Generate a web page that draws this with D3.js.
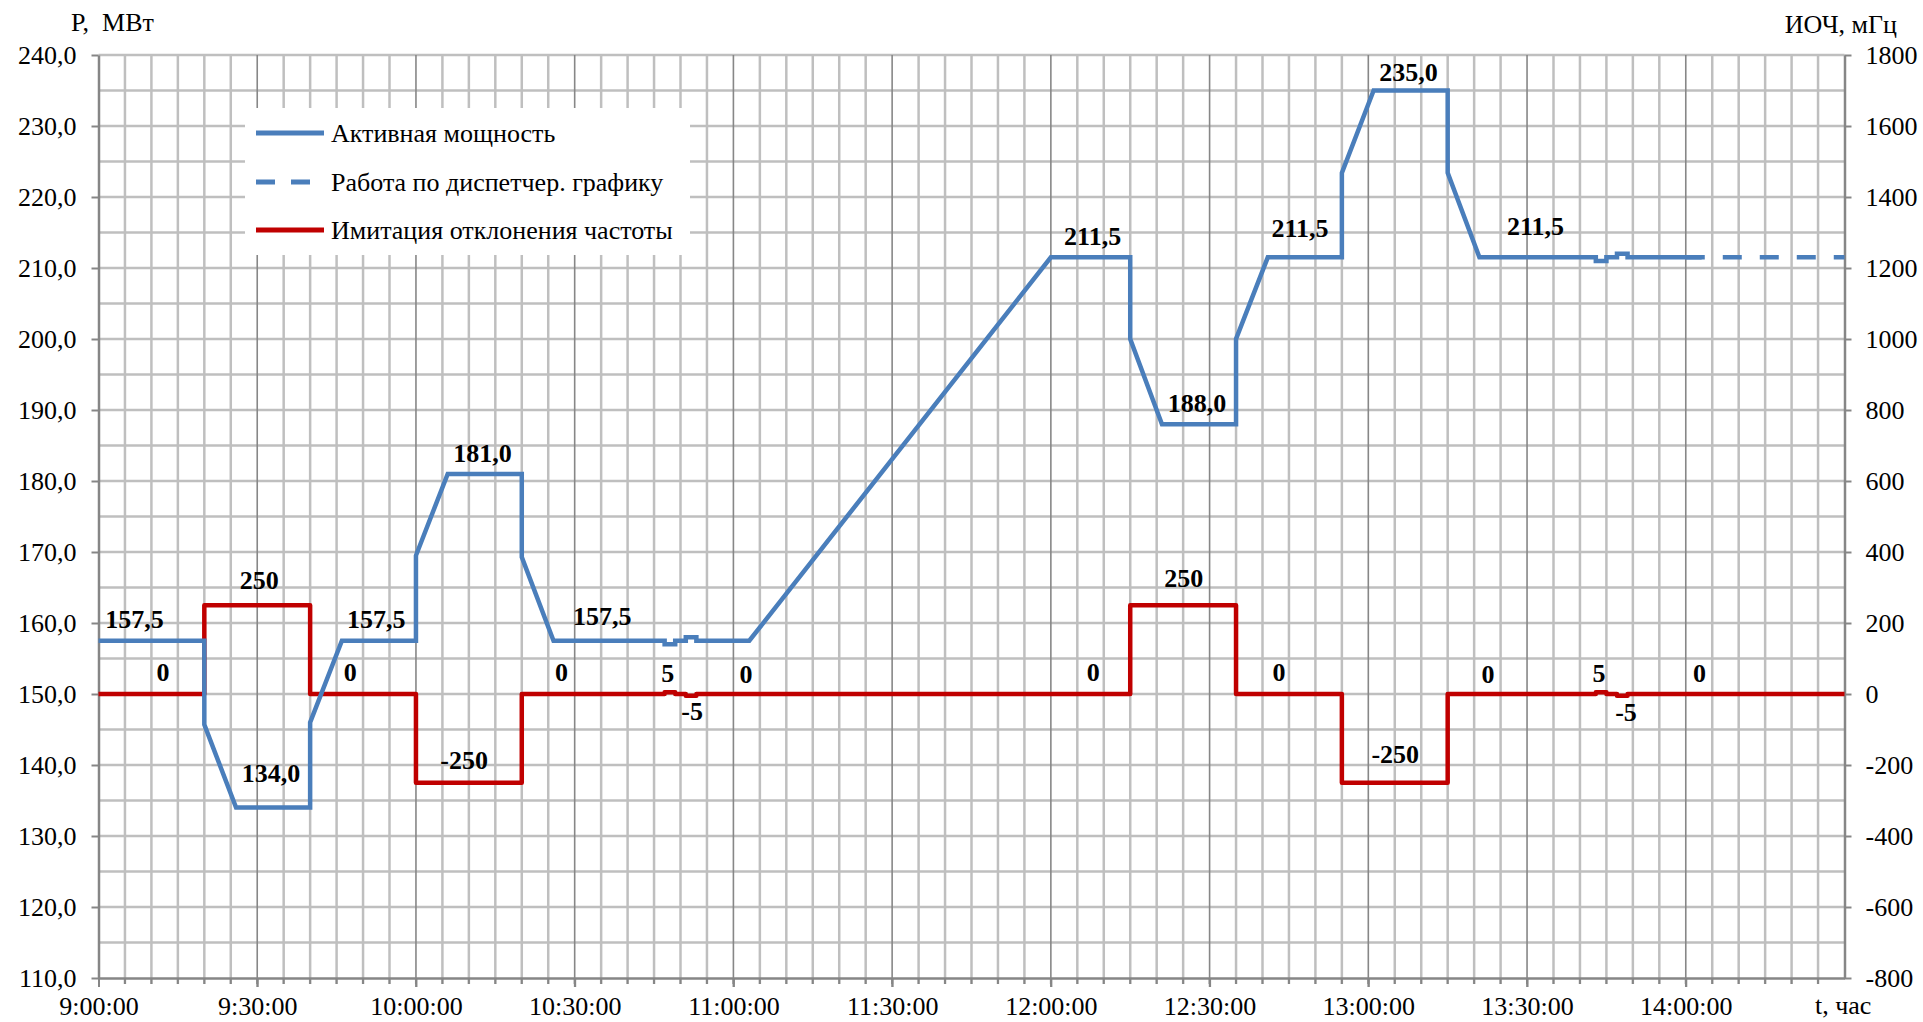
<!DOCTYPE html>
<html>
<head>
<meta charset="utf-8">
<script src="https://cdn.jsdelivr.net/npm/d3@7"></script>
<style>
  body { margin: 0; background: #fff; }
  svg text { font-family: "Liberation Serif", "Times New Roman", serif; fill: #000; }
</style>
</head>
<body>
<div id="chart-area"></div>
<script>
// --- data (time of day, MW / mHz) ---
var powerTime = ["9:00","9:20","9:20","9:26","9:40","9:40","9:46","10:00","10:00","10:06","10:20","10:20","10:26",
  "10:47","10:47","10:49","10:49","10:51","10:51","10:53","10:53","11:03","12:00","12:15","12:15","12:21","12:35","12:35",
  "12:41","12:55","12:55","13:01","13:15","13:15","13:21","13:43","13:43","13:45","13:45","13:47","13:47","13:49","13:49","14:03"];
var powerMW = [157.5,157.5,145.7,134,134,146,157.5,157.5,169.5,181,181,169.3,157.5,
  157.5,157,157,157.5,157.5,158,158,157.5,157.5,211.5,211.5,200,188,188,200,
  211.5,211.5,223.4,235,235,223.4,211.5,211.5,211,211,211.5,211.5,212,212,211.5,211.5];

var planTime = ["14:00","14:30"];
var planMW = [211.5, 211.5];

var freqTime = ["9:00","9:20","9:20","9:40","9:40","10:00","10:00","10:20","10:20","10:47","10:47","10:49","10:49",
  "10:51","10:51","10:53","10:53","12:15","12:15","12:35","12:35","12:55","12:55","13:15","13:15",
  "13:43","13:43","13:45","13:45","13:47","13:47","13:49","13:49","14:30"];
var freqMHz = [0,0,250,250,0,0,-250,-250,0,0,5,5,0,
  0,-5,-5,0,0,250,250,0,0,-250,-250,0,
  0,5,5,0,0,-5,-5,0,0];

// data labels: where the label sits (time, value on its own axis) and what it says
var powerLabelTime = ["9:06:48","9:32:36","9:52:30","10:12:36","10:35:12","12:07:54","12:27:36","12:47:06","13:07:36","13:31:36"];
var powerLabelAt = [159.3,137.6,159.3,182.7,159.7,213.2,189.7,214.3,236.4,214.6];
var powerLabelValue = [157.5,134,157.5,181,157.5,211.5,188,211.5,235,211.5];

var freqLabelTime = ["9:12:12","9:30:24","9:47:36","10:09:06","10:27:30","10:47:36","10:52:12","11:02:24",
  "12:08:00","12:25:06","12:43:06","13:05:06","13:22:36","13:43:36","13:48:42","14:02:36"];
var freqLabelAt = [38,297,38,-210,38,34,-74,31,38,301,37,-194,31,34,-76,34];
var freqLabelValue = [0,250,0,-250,0,5,-5,0,0,250,0,-250,0,5,-5,0];

var legendNames = ["Активная мощность", "Работа по диспетчер. графику", "Имитация отклонения частоты"];

// --- helpers ---
var parseTime = function(s) {
  if (s.split(":").length === 2) s = s + ":00";
  return d3.timeParse("%H:%M:%S")(s);
};
var fmtMW = function(v) { return d3.format(".1f")(v).replace(".", ","); };

var width = 1923, height = 1022;
var plotLeft = 98.5, plotRight = 1844.5, plotTop = 55, plotBottom = 978;
var blue = "#4a7ebb", red = "#c00000";

var svg = d3.select("#chart-area")
  .append("svg")
  .attr("width", width)
  .attr("height", height);

var xScale = d3.scaleTime()
  .domain([parseTime("9:00"), parseTime("14:30")])
  .range([plotLeft, plotRight]);
var yLeft = d3.scaleLinear().domain([110, 240]).range([plotBottom, plotTop]);
var yRight = d3.scaleLinear().domain([-800, 1800]).range([plotBottom, plotTop]);

// grid
var grid = svg.append("g");
grid.selectAll("line.h")
  .data(d3.range(115, 241, 5))
  .enter().append("line")
  .attr("x1", plotLeft).attr("x2", plotRight)
  .attr("y1", function(d) { return yLeft(d); })
  .attr("y2", function(d) { return yLeft(d); })
  .attr("stroke", "#bfbfbf").attr("stroke-width", 2.5);

var minorTimes = d3.timeMinute.every(5).range(parseTime("9:05"), parseTime("14:30"));
grid.selectAll("line.vminor")
  .data(minorTimes.filter(function(d) { return d.getMinutes() % 30 !== 0; }))
  .enter().append("line")
  .attr("x1", function(d) { return xScale(d); })
  .attr("x2", function(d) { return xScale(d); })
  .attr("y1", plotTop).attr("y2", plotBottom + 6)
  .attr("stroke", "#bfbfbf").attr("stroke-width", 2.5);
grid.selectAll("line.vmajor")
  .data(minorTimes.filter(function(d) { return d.getMinutes() % 30 === 0; }))
  .enter().append("line")
  .attr("x1", function(d) { return xScale(d); })
  .attr("x2", function(d) { return xScale(d); })
  .attr("y1", plotTop).attr("y2", plotBottom + 9)
  .attr("stroke", "#878787").attr("stroke-width", 1.6);

// axes
var leftAxis = svg.append("g")
  .attr("transform", "translate(" + plotLeft + ",0)")
  .call(d3.axisLeft(yLeft).tickValues(d3.range(110, 241, 10)).tickFormat(fmtMW)
    .tickSize(7).tickSizeOuter(0).tickPadding(15));

var rightAxis = svg.append("g")
  .attr("transform", "translate(" + plotRight + ",0)")
  .call(d3.axisRight(yRight).tickValues(d3.range(-800, 1801, 200)).tickFormat(function(d) { return String(d); })
    .tickSize(7).tickSizeOuter(0).tickPadding(14));

var bottomAxis = svg.append("g")
  .attr("transform", "translate(0," + plotBottom + ")")
  .call(d3.axisBottom(xScale).ticks(d3.timeMinute.every(30)).tickFormat(d3.timeFormat("%-H:%M:%S"))
    .tickSize(9).tickSizeOuter(0).tickPadding(10));

[leftAxis, rightAxis, bottomAxis].forEach(function(a) {
  a.select(".domain").attr("stroke", "#868686").attr("stroke-width", 2.5);
  a.selectAll(".tick line").attr("stroke", "#868686").attr("stroke-width", 2);
  a.selectAll("text").attr("font-size", 26).attr("font-family", "Liberation Serif");
});
bottomAxis.selectAll(".tick text").attr("dy", null).attr("y", 37);
bottomAxis.selectAll(".tick").filter(function(d) { return +d === +parseTime("14:30"); }).remove();

// minor ticks on time axis
svg.append("g").selectAll("line")
  .data(minorTimes)
  .enter().append("line")
  .attr("x1", function(d) { return xScale(d); })
  .attr("x2", function(d) { return xScale(d); })
  .attr("y1", plotBottom).attr("y2", plotBottom + 6)
  .attr("stroke", "#868686").attr("stroke-width", 2);

// axis titles
svg.append("text").attr("x", 71).attr("y", 31).attr("font-size", 26)
  .attr("xml:space", "preserve").text("P,  МВт");
svg.append("text").attr("x", 1897).attr("y", 33).attr("font-size", 26)
  .attr("text-anchor", "end").text("ИОЧ, мГц");
svg.append("text").attr("x", 1815).attr("y", 1014).attr("font-size", 26).text("t, час");

// lines
var powerLine = d3.line()
  .x(function(d) { return xScale(d[0]); })
  .y(function(d) { return yLeft(d[1]); });
var freqLine = d3.line()
  .x(function(d) { return xScale(d[0]); })
  .y(function(d) { return yRight(d[1]); });

var freqData = freqTime.map(function(t, i) { return [parseTime(t), freqMHz[i]]; });
var powerData = powerTime.map(function(t, i) { return [parseTime(t), powerMW[i]]; });
var planData = planTime.map(function(t, i) { return [parseTime(t), planMW[i]]; });

svg.append("path").datum(planData)
  .attr("d", powerLine).attr("fill", "none")
  .attr("stroke", blue).attr("stroke-width", 4.5).attr("stroke-dasharray", "19,18");
svg.append("path").datum(freqData)
  .attr("d", freqLine).attr("fill", "none")
  .attr("stroke", red).attr("stroke-width", 4.5).attr("stroke-linejoin", "round");
svg.append("path").datum(powerData)
  .attr("d", powerLine).attr("fill", "none")
  .attr("stroke", blue).attr("stroke-width", 4.5).attr("stroke-linejoin", "miter");

// data labels
svg.append("g").selectAll("text")
  .data(powerLabelTime)
  .enter().append("text")
  .attr("x", function(d) { return xScale(parseTime(d)); })
  .attr("y", function(d, i) { return yLeft(powerLabelAt[i]); })
  .attr("text-anchor", "middle").attr("font-size", 26).attr("font-weight", "bold")
  .text(function(d, i) { return fmtMW(powerLabelValue[i]); });

svg.append("g").selectAll("text")
  .data(freqLabelTime)
  .enter().append("text")
  .attr("x", function(d) { return xScale(parseTime(d)); })
  .attr("y", function(d, i) { return yRight(freqLabelAt[i]); })
  .attr("text-anchor", "middle").attr("font-size", 26).attr("font-weight", "bold")
  .text(function(d, i) { return String(freqLabelValue[i]); });

// legend
var legend = svg.append("g");
legend.append("rect")
  .attr("x", 245).attr("y", 108).attr("width", 445).attr("height", 147)
  .attr("fill", "#fff");
var legendRows = legend.selectAll("g.row")
  .data(legendNames)
  .enter().append("g")
  .attr("transform", function(d, i) { return "translate(0," + [133, 182, 230][i] + ")"; });
legendRows.append("line")
  .attr("x1", 256).attr("x2", 324)
  .attr("stroke", function(d, i) { return i === 2 ? red : blue; })
  .attr("stroke-width", 5)
  .attr("stroke-dasharray", function(d, i) { return i === 1 ? "19,16" : null; });
legendRows.append("text")
  .attr("x", 331).attr("y", 9).attr("font-size", 26)
  .text(function(d) { return d; });
</script>
</body>
</html>
